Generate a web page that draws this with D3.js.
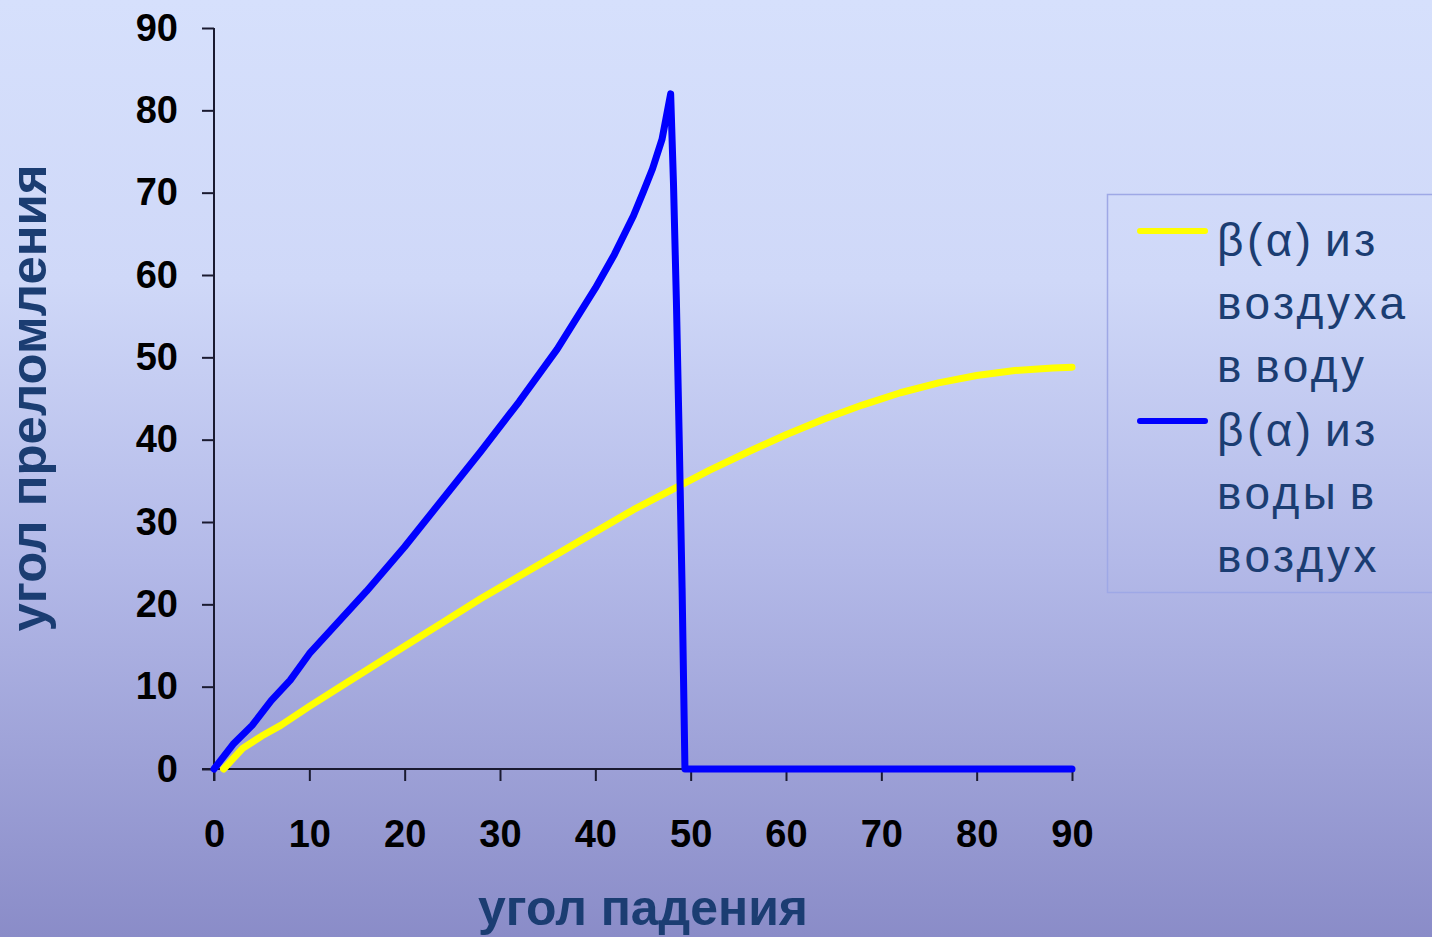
<!DOCTYPE html>
<html><head><meta charset="utf-8">
<script src="https://cdn.jsdelivr.net/npm/d3@7"></script>
<style>
html,body{margin:0;padding:0;overflow:hidden;}
svg{display:block;}
text{font-family:Arial,"Liberation Sans",sans-serif;}
</style></head>
<body>
<script>
// ---- data ----
const xTicks = [0,10,20,30,40,50,60,70,80,90];
const yTicks = [0,10,20,30,40,50,60,70,80,90];
const airAlpha = [1,3,5,7,10,13,16,20,24,28,32,36,40,44,48,52,56,60,64,68,72,76,80,84,88,90];
const airBeta  = [0,2.5,4.0,5.3,7.6,9.8,12.0,14.9,17.8,20.7,23.4,26.1,28.8,31.5,33.9,36.3,38.5,40.6,42.5,44.2,45.7,46.9,47.8,48.4,48.7,48.8];
const waterAlpha = [0,2,4,6,8,10,13,16,20,24,28,32,36,40,42,44,45,46,47,47.9,48.2,48.5,48.8,49.1,49.4,52,60,70,80,90];
const waterBeta  = [0,3.0,5.3,8.3,10.8,14.0,17.8,21.6,27.0,32.8,38.6,44.6,51.0,58.4,62.5,67.2,70.0,72.9,76.5,82.0,71,57,40,22,0,0,0,0,0,0];
const seriesNames = [["β(α) из","воздуха","в воду"],["β(α) из","воды в","воздух"]];
const seriesColors = ["#ffff00","#0000ff"];
const xTitle = "угол падения";
const yTitle = "угол преломления";

const W = 1432, H = 937;
const svg = d3.select("body").append("svg").attr("width",W).attr("height",H);
const defs = svg.append("defs");
const g = defs.append("linearGradient").attr("id","bg").attr("x1",0).attr("y1",0).attr("x2",0).attr("y2",1);
[[0,"#d6e0fc"],[0.3,"#cfd8f8"],[0.6,"#b3b9e8"],[1,"#8a8cc8"]].forEach(s=>g.append("stop").attr("offset",s[0]).attr("stop-color",s[1]));
svg.append("rect").attr("width",W).attr("height",H).attr("fill","url(#bg)");

const x = d3.scaleLinear().domain([0,90]).range([214,1072]);
const y = d3.scaleLinear().domain([0,90]).range([769,28]);

const axisColor = "#1a1a30";
const xa = svg.append("g").attr("transform","translate(0,769)")
  .call(d3.axisBottom(x).tickValues(xTicks).tickSize(12).tickPadding(39).tickSizeOuter(0));
const ya = svg.append("g").attr("transform","translate(214,0)")
  .call(d3.axisLeft(y).tickValues(yTicks).tickSize(12).tickPadding(24).tickSizeOuter(0));
[xa,ya].forEach(a=>{
  a.select(".domain").attr("stroke",axisColor).attr("stroke-width",2);
  a.selectAll(".tick line").attr("stroke",axisColor).attr("stroke-width",2);
  a.selectAll(".tick text").attr("fill","#000").attr("font-size",38).attr("font-weight","bold")
    .attr("font-family","Arial, 'Liberation Sans', sans-serif");
});
xa.select(".domain").attr("d","M202,0H1072");
ya.select(".domain").attr("d","M0,781V28");

const line = d3.line().x(d=>x(d[0])).y(d=>y(d[1]));
const series = [d3.zip(airAlpha,airBeta), d3.zip(waterAlpha,waterBeta)];
series.forEach((s,i)=>{
  svg.append("path").datum(s).attr("d",line).attr("fill","none")
    .attr("stroke",seriesColors[i]).attr("stroke-width",7)
    .attr("stroke-linejoin","round").attr("stroke-linecap","round");
});

// titles
const titleColor = "#1b3d72";
svg.append("text").attr("x",643).attr("y",925).attr("text-anchor","middle")
  .attr("font-size",50).attr("font-weight","bold").attr("fill",titleColor)
  .attr("textLength",330).attr("lengthAdjust","spacingAndGlyphs").text(xTitle);
svg.append("text").attr("transform","translate(46,398) rotate(-90)").attr("text-anchor","middle")
  .attr("font-size",50).attr("font-weight","bold").attr("fill",titleColor)
  .attr("textLength",467).attr("lengthAdjust","spacingAndGlyphs").text(yTitle);

// legend
const lg = svg.append("g");
lg.append("rect").attr("x",1107.5).attr("y",194.5).attr("width",340).attr("height",398)
  .attr("fill","none").attr("stroke","#9ea8e6").attr("stroke-width",1.5);
const legY = [231,421];
seriesNames.forEach((names,i)=>{
  lg.append("line").attr("x1",1140).attr("x2",1205).attr("y1",legY[i]).attr("y2",legY[i])
    .attr("stroke",seriesColors[i]).attr("stroke-width",6).attr("stroke-linecap","round");
  names.forEach((t,j)=>{
    lg.append("text").attr("x",1217).attr("y",256+ (i*3+j)*63.2)
      .attr("font-size",46).attr("fill",titleColor).attr("letter-spacing",3.5)
      .attr("word-spacing",-6).text(t);
  });
});
</script>
</body></html>
